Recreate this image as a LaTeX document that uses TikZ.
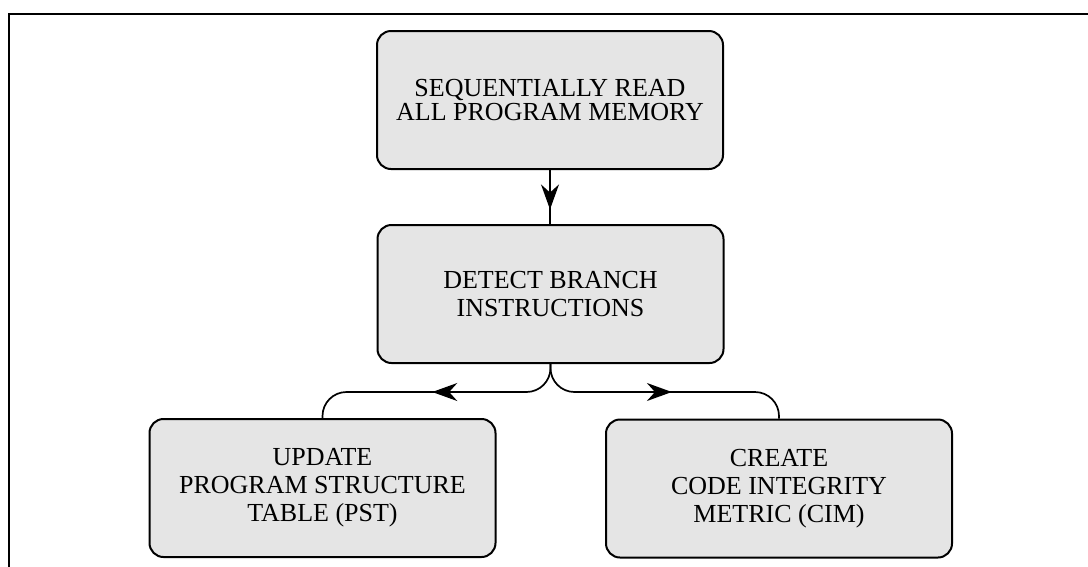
\documentclass[tikz,border=0pt]{standalone}
\usepackage{fontspec}
\setmainfont{Liberation Serif}
\usetikzlibrary{arrows.meta,decorations.markings}
\tikzset{
  stepbox/.style={draw, line width=2pt, fill=gray!20, rounded corners=14pt,
    minimum width=346pt, minimum height=138pt, align=center, inner sep=0pt,
    font=\fontsize{26}{28}\selectfont},
  midarrow/.style={line width=1.7pt, rounded corners=24pt, postaction={decorate},
    decoration={markings, mark=at position #1 with {\arrow{Stealth[length=25pt,width=18pt]}}}},
  frameline/.style={line width=2pt}
}
\begin{document}
\begin{tikzpicture}[x=1pt,y=-1pt]
\useasboundingbox (0,0) rectangle (1088,566);
% outer frame
\coordinate (fbl) at (9,570);
\coordinate (ftl) at (9,14);
\coordinate (ftr) at (1092,14);
\draw[frameline] (fbl) -- (ftl) -- (ftr);
% process steps
\node[stepbox, font=\fontsize{26}{24}\selectfont] (read) at (550,100) {SEQUENTIALLY READ\\ALL PROGRAM MEMORY};
\node[stepbox] (detect) at (550.5,294) {DETECT BRANCH\\INSTRUCTIONS};
\node[stepbox] (pst) at (322.5,488) {UPDATE\\PROGRAM STRUCTURE\\TABLE (PST)};
\node[stepbox] (cim) at (779,488.5) {CREATE\\CODE INTEGRITY\\METRIC (CIM)};
% connectors
\draw[midarrow=0.73] (read.south) -- (read.south |- detect.north);
\draw[midarrow=0.52] (detect.south) -- ++(0,28) -| (pst.north);
\draw[midarrow=0.53] (detect.south) -- ++(0,28) -| (cim.north);
\end{tikzpicture}
\end{document}
